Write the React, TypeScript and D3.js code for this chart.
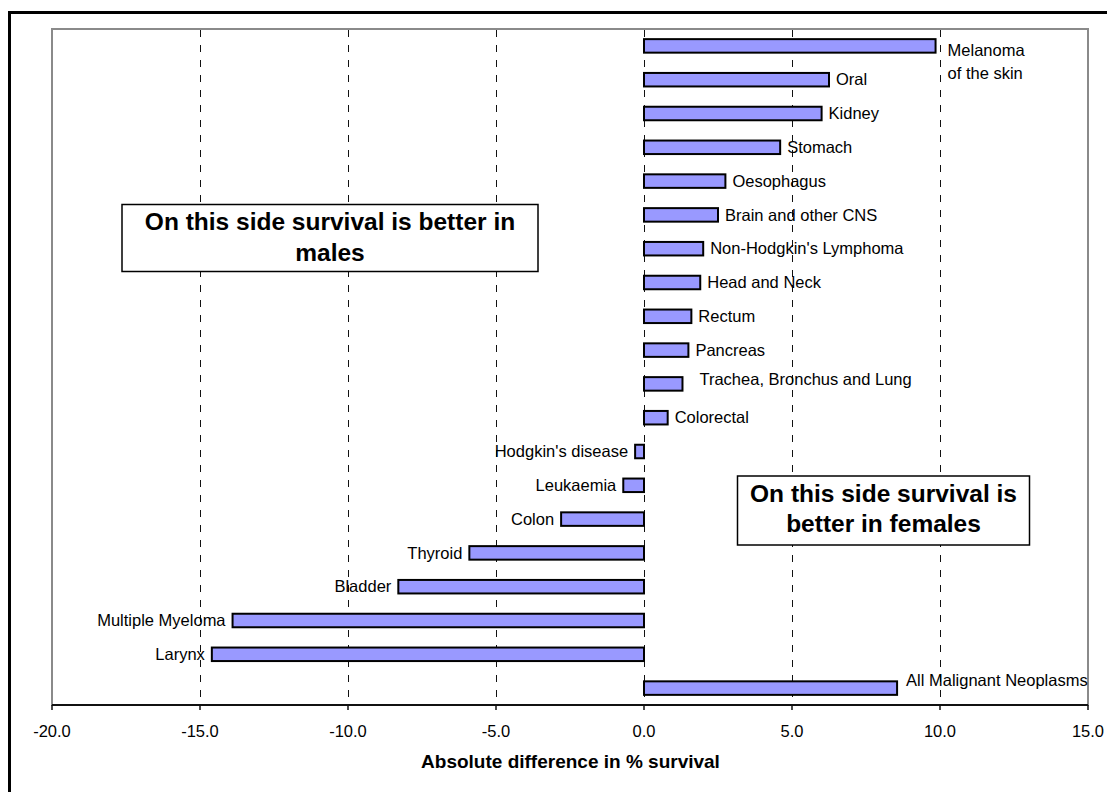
import React from "react";
import * as d3 from "d3";

// Cancer sites, top to bottom, and the female-minus-male difference in % survival
const categories: string[] = [
  "Melanoma of the skin",
  "Oral",
  "Kidney",
  "Stomach",
  "Oesophagus",
  "Brain and other CNS",
  "Non-Hodgkin's Lymphoma",
  "Head and Neck",
  "Rectum",
  "Pancreas",
  "Trachea, Bronchus and Lung",
  "Colorectal",
  "Hodgkin's disease",
  "Leukaemia",
  "Colon",
  "Thyroid",
  "Bladder",
  "Multiple Myeloma",
  "Larynx",
  "All Malignant Neoplasms",
];

const differences: number[] = [
  9.85, 6.25, 6.0, 4.6, 2.75, 2.5, 2.0, 1.9, 1.6, 1.5, 1.3, 0.8,
  -0.3, -0.7, -2.8, -5.9, -8.3, -13.9, -14.6, 8.55,
];

const tickValues: number[] = [-20, -15, -10, -5, 0, 5, 10, 15];
const gridValues: number[] = [-15, -10, -5, 0, 5, 10];

const axisTitle = "Absolute difference in % survival";
const maleNote: string[] = ["On this side survival is better in", "males"];
const femaleNote: string[] = ["On this side survival is", "better in females"];

// Label placement tweaks (pixels) for a few data labels
const labelNudge: Record<string, { dx: number; dy: number; lines?: string[] }> = {
  "Melanoma of the skin": { dx: 12, dy: 4, lines: ["Melanoma", "of the skin"] },
  "Trachea, Bronchus and Lung": { dx: 17, dy: -5 },
  "All Malignant Neoplasms": { dx: 9, dy: -8 },
};

const FONT = "'Liberation Sans', Arial, Helvetica, sans-serif";

export default function App() {
  const W = 1107;
  const H = 792;
  const plot = { left: 52, right: 1088, top: 29, bottom: 705 };

  const x = d3.scaleLinear().domain([-20, 15]).range([plot.left, plot.right]);
  const y = d3
    .scaleBand<string>()
    .domain(categories)
    .range([plot.top, plot.bottom])
    .paddingInner(0.6)
    .paddingOuter(0.3);

  // plain hyphen for negatives, one decimal place
  const fmt = (v: number) => d3.format(".1f")(v).replace("\u2212", "-");

  return (
    <svg
      width={W}
      height={H}
      style={{ position: "absolute", left: 0, top: 0, display: "block", background: "#fff" }}
      fontFamily={FONT}
    >
      {/* outer frame */}
      <rect x={9.5} y={12.5} width={1120} height={800} fill="none" stroke="#000" strokeWidth={3} />

      {/* plot area */}
      <rect
        x={plot.left}
        y={plot.top}
        width={plot.right - plot.left}
        height={plot.bottom - plot.top}
        fill="#fff"
        stroke="#8a8a8a"
        strokeWidth={2}
      />

      {/* dashed vertical gridlines */}
      {gridValues.map((v) => (
        <line
          key={`g${v}`}
          x1={x(v) + 0.5}
          x2={x(v) + 0.5}
          y1={plot.top + 1}
          y2={plot.bottom}
          stroke="#111"
          strokeWidth={1}
          strokeDasharray="7,8"
        />
      ))}

      {/* bars */}
      {categories.map((c, i) => {
        const v = differences[i];
        const x0 = x(Math.min(0, v));
        const x1 = x(Math.max(0, v));
        return (
          <rect
            key={`b${c}`}
            x={x0}
            y={y(c)!}
            width={x1 - x0}
            height={y.bandwidth()}
            fill="#9999ff"
            stroke="#000"
            strokeWidth={2}
          />
        );
      })}

      {/* data labels */}
      {categories.map((c, i) => {
        const v = differences[i];
        const nudge = labelNudge[c] || { dx: 7, dy: 0 };
        const cy = y(c)! + y.bandwidth() / 2 + nudge.dy;
        const lines = nudge.lines || [c];
        const tx = x(v) + (v >= 0 ? nudge.dx : -nudge.dx);
        return (
          <text
            key={`l${c}`}
            x={tx}
            y={cy}
            fontSize={16.5}
            fill="#000"
            textAnchor={v >= 0 ? "start" : "end"}
          >
            {lines.map((ln, k) => (
              <tspan key={k} x={tx} dy={k === 0 ? "0.35em" : 23}>
                {ln}
              </tspan>
            ))}
          </text>
        );
      })}

      {/* x axis */}
      <line x1={plot.left} x2={plot.right} y1={plot.bottom} y2={plot.bottom} stroke="#111" strokeWidth={2} />
      {tickValues.map((v) => (
        <g key={`t${v}`}>
          <line x1={x(v)} x2={x(v)} y1={plot.bottom} y2={plot.bottom + 5} stroke="#111" strokeWidth={1.5} />
          <text x={x(v)} y={737} fontSize={16.5} textAnchor="middle" fill="#000">
            {fmt(v)}
          </text>
        </g>
      ))}
      <text x={570.5} y={768} fontSize={19} fontWeight="bold" textAnchor="middle" fill="#000">
        {axisTitle}
      </text>

      {/* annotation boxes */}
      <g>
        <rect x={122} y={204.5} width={416} height={67} fill="#fff" stroke="#000" strokeWidth={1.5} />
        {maleNote.map((t, k) => (
          <text
            key={k}
            x={330}
            y={230 + k * 31}
            fontSize={24.5}
            fontWeight="bold"
            textAnchor="middle"
            fill="#000"
          >
            {t}
          </text>
        ))}
      </g>
      <g>
        <rect x={737.5} y={476} width={292} height={69} fill="#fff" stroke="#000" strokeWidth={1.5} />
        {femaleNote.map((t, k) => (
          <text
            key={k}
            x={883.5}
            y={502 + k * 30}
            fontSize={24.5}
            fontWeight="bold"
            textAnchor="middle"
            fill="#000"
          >
            {t}
          </text>
        ))}
      </g>
    </svg>
  );
}
